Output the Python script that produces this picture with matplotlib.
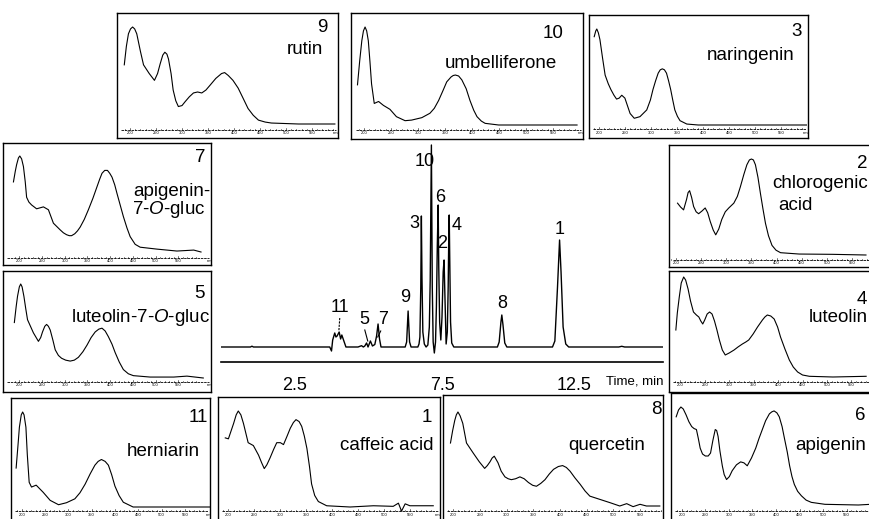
import matplotlib.pyplot as plt
from matplotlib.transforms import ScaledTranslation

plt.rcParams['font.family'] = ['Liberation Sans', 'DejaVu Sans']
plt.rcParams['mathtext.fontset'] = 'custom'
plt.rcParams['mathtext.rm'] = 'Liberation Sans'
plt.rcParams['mathtext.it'] = 'Liberation Sans:italic'

# chromatogram: time (min) vs detector signal (arbitrary units)
chrom_time = [0.0, 1.0, 1.05, 1.1, 3.69, 3.75, 3.79, 3.86, 3.90, 3.94, 4.01, 4.06, 4.10, 4.17, 4.24,
              4.65, 4.77, 4.83, 4.88, 4.94, 4.99, 5.07, 5.14, 5.22, 5.28, 5.33, 5.38, 5.43,
              6.25, 6.30, 6.35, 6.40, 6.45,
              6.68, 6.72, 6.75, 6.78, 6.80, 6.82, 6.85, 6.90, 6.96,
              7.02, 7.07, 7.10, 7.14, 7.17, 7.20, 7.24, 7.28, 7.31, 7.34, 7.37, 7.39, 7.42, 7.46,
              7.50, 7.54, 7.57, 7.60, 7.64, 7.68, 7.71, 7.73, 7.745, 7.76, 7.79, 7.83, 7.90,
              9.38, 9.44, 9.50, 9.53, 9.57, 9.63, 9.70,
              11.25, 11.33, 11.42, 11.49, 11.54, 11.61, 11.70, 11.80, 13.5, 13.6, 13.7, 15.0]
chrom_signal = [0, 0, 0.8, 0, 0, -4, 7, 14, 10, 11, 15, 8, 12, 6, 0,
                0, 1.3, 0, 1, 4, 0, 6, 1, 2.5, 11, 23, 8, 0,
                0, 5, 36, 5, 0,
                0, 3, 10, 60, 131, 70, 15, 3, 0,
                2, 20, 67, 202, 60, 5, -6, 5, 40, 100, 142, 80, 25, 7,
                30, 75, 87, 50, 3, 15, 60, 110, 132, 95, 25, 4, 0,
                0, 5, 25, 32, 22, 4, 0,
                0, 6, 60, 107, 75, 20, 3, 0, 0, 0.7, 0, 0]

# UV spectra: wavelength (nm) vs normalised absorbance
rutin_nm = [189, 193, 197, 201, 205, 209, 213, 220, 226, 237, 247, 253, 258, 263, 267, 271, 274, 279, 283, 288,
            293, 300, 306, 314, 322, 330, 338, 346, 354, 365, 376, 382, 389, 398, 408, 418, 427, 437, 447, 460,
            472, 524, 594]
rutin_abs = [0.61, 0.80, 0.93, 0.98, 1.0, 0.98, 0.93, 0.75, 0.61, 0.52, 0.45, 0.52, 0.62, 0.71, 0.74, 0.72,
             0.67, 0.52, 0.35, 0.24, 0.18, 0.19, 0.23, 0.28, 0.32, 0.33, 0.32, 0.35, 0.40, 0.47, 0.52, 0.53,
             0.50, 0.45, 0.37, 0.26, 0.16, 0.09, 0.04, 0.02, 0.01, 0, 0]

umbelliferone_nm = [188, 192, 196, 199, 202, 205, 208, 211, 214, 219, 227, 236, 248, 260, 276, 288, 307, 322,
                    330, 338, 346, 353, 361, 365, 369, 375, 381, 389, 396, 403, 409, 417, 424, 449, 594]
umbelliferone_abs = [0.41, 0.65, 0.86, 0.96, 1.0, 0.96, 0.86, 0.65, 0.42, 0.22, 0.24, 0.20, 0.16, 0.085, 0.044,
                     0.05, 0.075, 0.12, 0.17, 0.25, 0.35, 0.44, 0.49, 0.505, 0.51, 0.50, 0.46, 0.37, 0.25, 0.15,
                     0.085, 0.04, 0.017, 0, 0]

naringenin_nm = [191, 194, 196, 199, 202, 207, 212, 218, 223, 229, 234, 239, 244, 250, 255, 260, 268, 279, 292,
                 299, 304, 309, 314, 318, 322, 326, 330, 334, 338, 342, 346, 351, 356, 369, 391, 599]
naringenin_abs = [0.92, 0.98, 1.0, 0.96, 0.89, 0.70, 0.52, 0.43, 0.37, 0.31, 0.27, 0.28, 0.31, 0.28, 0.20, 0.12,
                  0.07, 0.087, 0.157, 0.26, 0.37, 0.46, 0.54, 0.575, 0.585, 0.575, 0.54, 0.46, 0.37, 0.26,
                  0.157, 0.09, 0.045, 0.01, 0, 0]

apigenin7_nm = [187, 191, 194, 198, 201, 205, 209, 213, 216, 221, 227, 238, 253, 264, 275, 290, 297, 304, 310,
                315, 322, 328, 334, 343, 352, 362, 371, 377, 382, 388, 394, 399, 404, 410, 415, 422, 429, 437,
                444, 455, 466, 503, 547, 584, 600]
apigenin7_abs = [0.73, 0.84, 0.91, 0.98, 1.0, 0.97, 0.89, 0.73, 0.57, 0.52, 0.49, 0.45, 0.47, 0.44, 0.30, 0.23,
                 0.20, 0.18, 0.17, 0.17, 0.19, 0.22, 0.26, 0.34, 0.44, 0.56, 0.68, 0.76, 0.82, 0.85, 0.85, 0.82,
                 0.78, 0.70, 0.61, 0.49, 0.37, 0.25, 0.16, 0.08, 0.05, 0.03, 0.01, 0.02, 0]

luteolin7_nm = [189, 193, 196, 200, 203, 206, 210, 214, 218, 231, 242, 247, 251, 256, 260, 264, 268, 274, 279,
                286, 293, 302, 312, 321, 330, 340, 349, 358, 367, 375, 382, 389, 396, 404, 411, 420, 429, 440,
                451, 488, 540, 569, 605]
luteolin7_abs = [0.59, 0.76, 0.87, 0.97, 1.0, 0.97, 0.87, 0.74, 0.62, 0.48, 0.39, 0.43, 0.49, 0.55, 0.57, 0.55,
                 0.51, 0.40, 0.30, 0.24, 0.21, 0.19, 0.18, 0.19, 0.22, 0.28, 0.35, 0.43, 0.49, 0.52, 0.53, 0.50,
                 0.44, 0.36, 0.27, 0.17, 0.09, 0.045, 0.025, 0.01, 0.01, 0.02, 0]

herniarin_nm = [188, 192, 195, 199, 202, 205, 209, 212, 216, 221, 231, 246, 261, 279, 296, 314, 325, 336, 347,
                357, 364, 371, 379, 386, 393, 400, 409, 418, 439, 604]
herniarin_abs = [0.41, 0.65, 0.84, 0.97, 1.0, 0.97, 0.84, 0.55, 0.26, 0.21, 0.23, 0.155, 0.07, 0.024, 0.045,
                 0.086, 0.15, 0.24, 0.35, 0.44, 0.48, 0.50, 0.48, 0.44, 0.34, 0.22, 0.12, 0.05, 0, 0]

caffeic_nm = [194, 200, 205, 210, 215, 219, 224, 229, 238, 248, 258, 264, 269, 274, 280, 287, 293, 300, 306,
              313, 319, 325, 330, 336, 341, 346, 351, 356, 360, 366, 373, 389, 434, 479, 517, 527, 533, 540,
              549, 594]
caffeic_abs = [0.72, 0.71, 0.79, 0.87, 0.96, 1.0, 0.96, 0.87, 0.67, 0.64, 0.54, 0.46, 0.40, 0.44, 0.51, 0.60,
               0.67, 0.67, 0.65, 0.74, 0.82, 0.88, 0.91, 0.89, 0.84, 0.74, 0.61, 0.42, 0.24, 0.12, 0.057, 0.013,
               0, 0.013, 0.007, 0.04, -0.043, 0.033, 0.013, 0.013]

quercetin_nm = [195, 199, 203, 206, 209, 213, 218, 225, 238, 249, 259, 264, 269, 273, 277, 284, 290, 297, 303,
                309, 317, 325, 333, 341, 349, 356, 364, 372, 380, 388, 397, 405, 412, 419, 428, 438, 447, 456,
                475, 494, 512, 525, 537, 550, 562, 587]
quercetin_abs = [0.67, 0.80, 0.91, 0.97, 1.0, 0.96, 0.88, 0.67, 0.56, 0.47, 0.40, 0.43, 0.47, 0.51, 0.53, 0.46,
                 0.37, 0.31, 0.29, 0.28, 0.29, 0.31, 0.29, 0.25, 0.22, 0.21, 0.24, 0.28, 0.34, 0.39, 0.42, 0.43,
                 0.41, 0.37, 0.30, 0.23, 0.16, 0.105, 0.07, 0.035, 0, 0.025, -0.007, 0.018, 0, 0]

apigenin_nm = [188, 193, 198, 203, 209, 215, 221, 226, 231, 235, 239, 244, 250, 256, 261, 266, 271, 274, 277,
               281, 286, 290, 295, 301, 307, 316, 325, 332, 339, 348, 357, 364, 371, 378, 386, 391, 396, 402,
               407, 413, 418, 424, 429, 434, 439, 446, 454, 464, 475, 504, 575, 601]
apigenin_abs = [0.90, 0.97, 1.0, 0.98, 0.92, 0.85, 0.80, 0.78, 0.77, 0.68, 0.58, 0.52, 0.50, 0.50, 0.53, 0.66,
                0.77, 0.76, 0.70, 0.55, 0.40, 0.31, 0.26, 0.29, 0.35, 0.41, 0.44, 0.43, 0.40, 0.48, 0.58, 0.68,
                0.77, 0.86, 0.93, 0.95, 0.96, 0.94, 0.90, 0.80, 0.68, 0.54, 0.40, 0.29, 0.21, 0.14, 0.094,
                0.05, 0.027, 0.007, 0, 0.007]

chlorogenic_nm = [203, 209, 215, 221, 224, 227, 231, 235, 240, 245, 252, 258, 263, 268, 274, 279, 285, 291,
                  298, 305, 315, 322, 328, 335, 341, 346, 350, 354, 358, 363, 368, 373, 378, 384, 391, 399,
                  408, 445, 511, 578]
chlorogenic_abs = [0.54, 0.50, 0.47, 0.58, 0.65, 0.67, 0.60, 0.505, 0.45, 0.43, 0.46, 0.49, 0.44, 0.35, 0.26,
                   0.21, 0.27, 0.37, 0.45, 0.49, 0.54, 0.61, 0.71, 0.84, 0.94, 0.99, 1.0, 0.99, 0.94, 0.81,
                   0.64, 0.48, 0.33, 0.20, 0.10, 0.05, 0.024, 0.01, 0.007, 0]

luteolin_nm = [191, 194, 198, 202, 207, 211, 216, 221, 227, 233, 238, 242, 246, 250, 255, 260, 265, 270, 275,
               280, 286, 292, 300, 310, 318, 327, 334, 340, 349, 358, 368, 373, 378, 385, 392, 399, 405, 414,
               423, 431, 440, 450, 464, 512, 580]
luteolin_abs = [0.47, 0.64, 0.80, 0.94, 1.0, 0.97, 0.88, 0.76, 0.65, 0.62, 0.60, 0.56, 0.53, 0.57, 0.63, 0.65,
                0.63, 0.56, 0.47, 0.37, 0.27, 0.22, 0.24, 0.27, 0.30, 0.33, 0.35, 0.37, 0.43, 0.50, 0.57, 0.60,
                0.62, 0.61, 0.58, 0.50, 0.40, 0.28, 0.17, 0.10, 0.05, 0.02, 0.007, 0, 0.007]

W, H = 869, 519
fig = plt.figure(figsize=(W / 100, H / 100), dpi=100)


def px_axes(x0, y0, x1, y1):
    return fig.add_axes([x0 / W, 1 - y1 / H, (x1 - x0) / W, (y1 - y0) / H])


def px_text(x, y, s, size=13.5, ha='right'):
    fig.text(x / W, 1 - y / H, s, ha=ha, va='center', fontsize=size)


# ---- chromatogram in the middle ----
ax = px_axes(221, 140, 663, 362)
ax.plot(chrom_time, chrom_signal, color='black', lw=1.0)
ax.set_xlim(0, 15)
ax.set_ylim(-15, 207)
for s in ['top', 'left', 'right']:
    ax.spines[s].set_visible(False)
ax.spines['bottom'].set_linewidth(1.2)
ax.set_yticks([])
ax.set_xticks([2.5, 7.5, 12.5])
ax.set_xticklabels(['2.5', '7.5', '12.5'], fontsize=13)
ax.tick_params(axis='x', length=0, pad=11)
# the "12.5" label sits a bit to the left in the original figure
lbl = ax.get_xticklabels()[2]
lbl.set_transform(lbl.get_transform() + ScaledTranslation(-0.15, 0, fig.dpi_scale_trans))
ax.patch.set_alpha(0)
# leader lines for the small peaks
ax.plot([4.03, 4.0], [29, 16], color='black', lw=0.8, ls=(0, (2, 1)))
ax.plot([4.88, 4.98], [17, 6], color='black', lw=0.8)
ax.plot([5.42, 5.32], [16, 10], color='black', lw=0.8)
px_text(664, 382, 'Time, min', size=9.5)

for lab, x, y in [('10', 425, 162), ('6', 440, 197), ('3', 414, 223), ('2', 442, 243), ('4', 457, 225),
                  ('1', 560, 230), ('8', 502, 303), ('9', 405, 298), ('7', 383, 320), ('5', 364, 320),
                  ('11', 340, 307)]:
    px_text(x, y, lab, size=13, ha='center')

# ---- UV spectra insets ----
# (x, y, box x0, y0, x1, y1, peak px, tail px, axis px, nm at left edge, nm at right edge)
insets = [
    (rutin_nm, rutin_abs, 117, 13, 338, 138, 27, 124, 130, 175, 600),
    (umbelliferone_nm, umbelliferone_abs, 351, 13, 583, 139, 27, 125, 130, 176, 605),
    (naringenin_nm, naringenin_abs, 589, 15, 808, 138, 29, 125, 129, 181, 602),
    (apigenin7_nm, apigenin7_abs, 3, 143, 211, 265, 156, 252, 258, 164, 622),
    (luteolin7_nm, luteolin7_abs, 3, 271, 211, 392, 284, 378, 382, 164, 622),
    (herniarin_nm, herniarin_abs, 11, 398, 210, 522, 412, 507, 511, 177, 604),
    (caffeic_nm, caffeic_abs, 218, 397, 440, 522, 411, 507, 511, 180, 607),
    (quercetin_nm, quercetin_abs, 443, 395, 663, 522, 412, 506, 511, 181, 593),
    (apigenin_nm, apigenin_abs, 671, 393, 872, 522, 407, 505, 511, 177, 604),
    (chlorogenic_nm, chlorogenic_abs, 669, 145, 872, 267, 159, 255, 260, 186, 590),
    (luteolin_nm, luteolin_abs, 669, 271, 872, 392, 277, 377, 382, 177, 592),
]

for nm, ab, x0, y0, x1, y1, pk, tl, axp, nl, nr in insets:
    a = px_axes(x0, y0, x1, y1)
    unit = tl - pk
    a.set_xlim(nl, nr)
    a.set_ylim(-(y1 - tl) / unit, 1 + (pk - y0) / unit)
    a.plot(nm, ab, color='black', lw=0.8)
    ya = -(axp - tl) / unit
    a.plot([nl + 0.02 * (nr - nl), nr - 0.01 * (nr - nl)], [ya, ya], color='black', lw=0.6, ls=(0, (3, 1)))
    tick_h = 1.5 / unit
    for w in range(190, 600, 10):
        if nl < w < nr:
            h = tick_h * (1.6 if w % 50 == 0 else 1)
            a.plot([w, w], [ya, ya + h], color='black', lw=0.4)
    for w in range(200, 600, 50):
        if w < nr - 8:
            a.text(w, ya - 1.5 / unit, str(w), fontsize=3.0, ha='center', va='top')
    if nr > 597 and x1 < W:
        a.text(nr - 4, ya - 1.5 / unit, 'nm', fontsize=3.0, ha='center', va='top')
    a.set_xticks([])
    a.set_yticks([])
    for s in a.spines.values():
        s.set_linewidth(1.0)

# inset captions
px_text(328, 28, '9')
px_text(323, 49, 'rutin')
px_text(563, 33, '10')
px_text(557, 63, 'umbelliferone')
px_text(802, 32, '3')
px_text(795, 55, 'naringenin')
px_text(205, 158, '7')
px_text(210, 192, 'apigenin-')
px_text(205, 210, r'7-$\mathit{O}$-gluc')
px_text(205, 293, '5')
px_text(210, 317, r'luteolin-7-$\mathit{O}$-gluc')
px_text(208, 417, '11')
px_text(200, 452, 'herniarin')
px_text(432, 417, '1')
px_text(433, 445, 'caffeic acid')
px_text(662, 410, '8')
px_text(645, 445, 'quercetin')
px_text(865, 415, '6')
px_text(866, 445, 'apigenin')
px_text(867, 163, '2')
px_text(772, 183, 'chlorogenic', ha='left')
px_text(778, 205, 'acid', ha='left')
px_text(867, 300, '4')
px_text(809, 317, 'luteolin', ha='left')

plt.savefig('out.png', dpi=100)
